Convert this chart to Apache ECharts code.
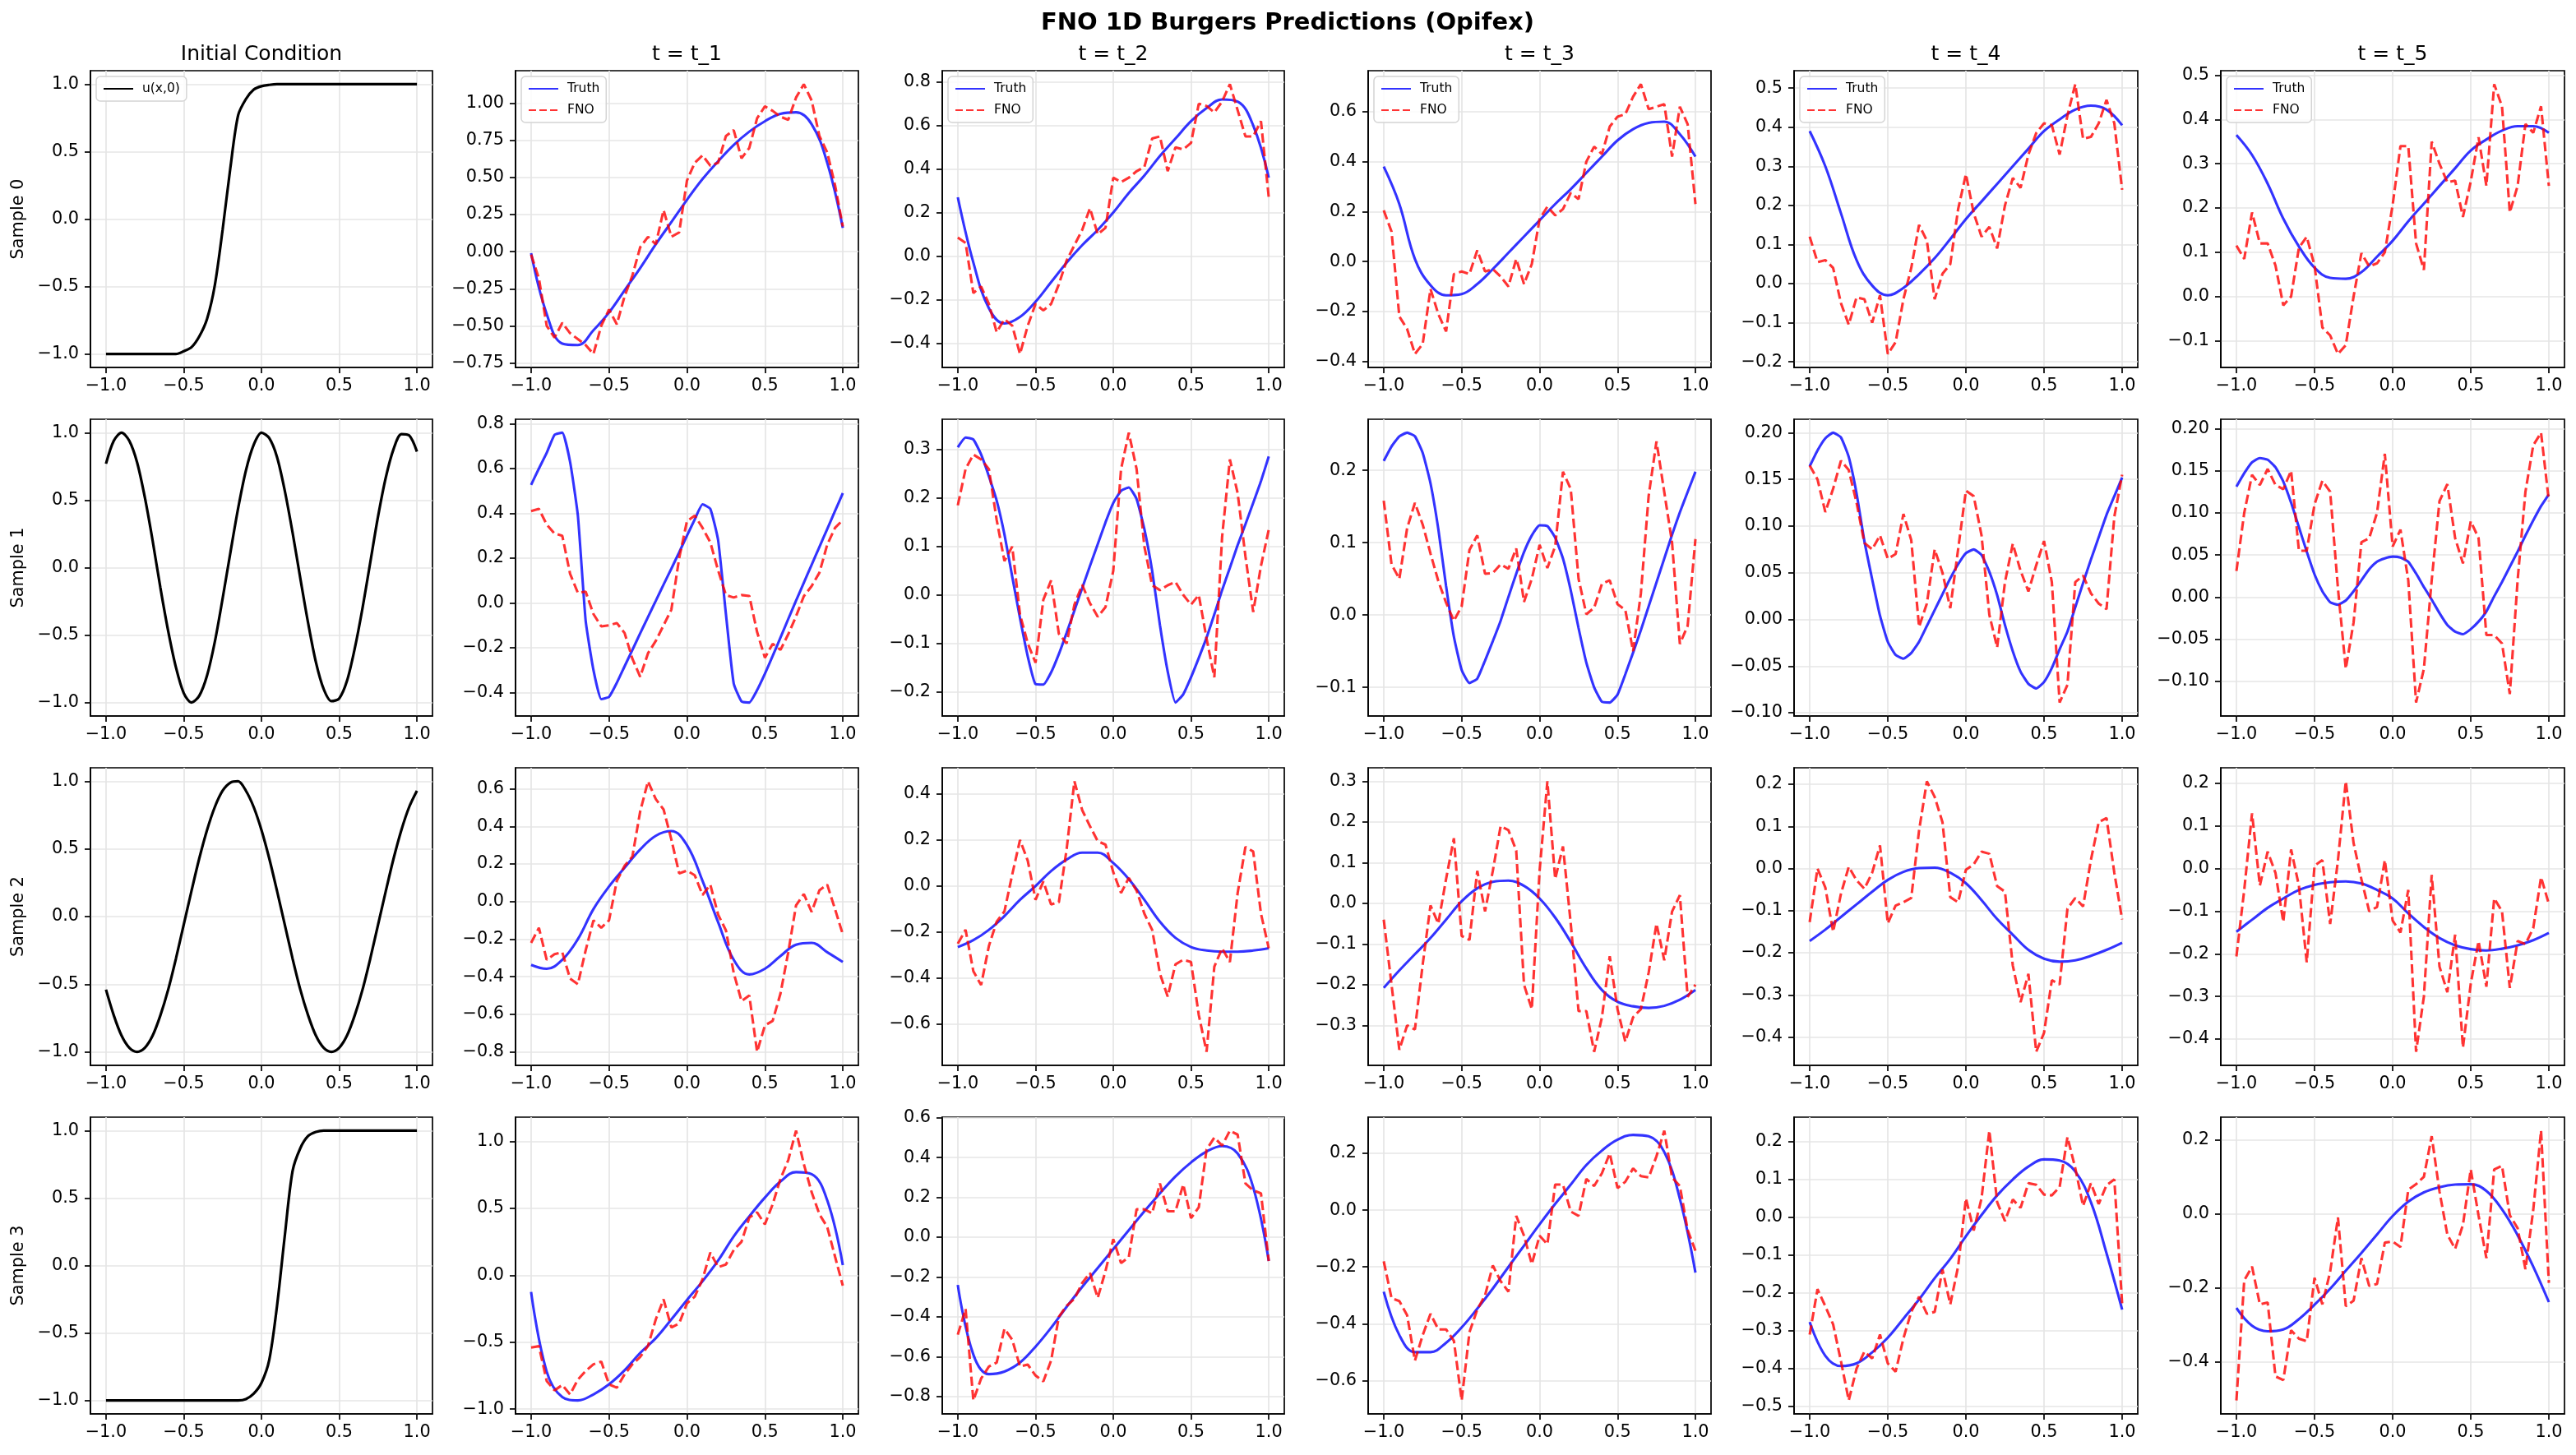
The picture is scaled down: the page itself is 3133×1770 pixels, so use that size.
<!DOCTYPE html>
<html><head><meta charset="utf-8">
<script src="https://cdn.jsdelivr.net/npm/echarts@6/dist/echarts.min.js"></script>
<style>html,body{margin:0;padding:0;background:#fff}#c{width:3133px;height:1770px}</style>
</head><body><div id="c"></div>
<script>
// ---------------- DATA ----------------
const X41 = [-1,-0.95,-0.9,-0.85,-0.8,-0.75,-0.7,-0.65,-0.6,-0.55,-0.5,-0.45,-0.4,-0.35,-0.3,-0.25,-0.2,-0.15,-0.1,-0.05,0,0.05,0.1,0.15,0.2,0.25,0.3,0.35,0.4,0.45,0.5,0.55,0.6,0.65,0.7,0.75,0.8,0.85,0.9,0.95,1];
const X21 = [-1,-0.9,-0.8,-0.7,-0.6,-0.5,-0.4,-0.3,-0.2,-0.1,0,0.1,0.2,0.3,0.4,0.5,0.6,0.7,0.8,0.9,1];

const colTitles = ['Initial Condition','t = t_1','t = t_2','t = t_3','t = t_4','t = t_5'];
const rowLabels = ['Sample 0','Sample 1','Sample 2','Sample 3'];
const suptitle = 'FNO 1D Burgers Predictions (Opifex)';
const xTicks = [-1,-0.5,0,0.5,1];

// initial conditions u(x,0)
const ic0 = [-1,-1,-1,-1,-1,-1,-1,-1,-1,-1,-0.98,-0.95,-0.87,-0.74,-0.49,-0.08,0.38,0.77,0.89,0.96,0.985,0.995,1,1,1,1,1,1,1,1,1,1,1,1,1,1,1,1,1,1,1];
const ic1 = [0.77,0.94,1.0,0.94,0.78,0.52,0.2,-0.15,-0.47,-0.74,-0.93,-1.0,-0.95,-0.8,-0.55,-0.23,0.11,0.44,0.72,0.91,1.0,0.96,0.82,0.57,0.26,-0.08,-0.41,-0.7,-0.9,-0.99,-0.97,-0.84,-0.6,-0.3,0.04,0.38,0.67,0.88,0.99,0.98,0.86];
const ic2 = [-0.54,-0.73,-0.88,-0.97,-1.0,-0.97,-0.88,-0.73,-0.54,-0.31,-0.06,0.19,0.43,0.64,0.81,0.93,0.99,1.0,0.93,0.81,0.64,0.43,0.19,-0.06,-0.31,-0.54,-0.73,-0.88,-0.97,-1.0,-0.97,-0.88,-0.73,-0.54,-0.31,-0.06,0.19,0.43,0.64,0.81,0.93];
const ic3 = [-1,-1,-1,-1,-1,-1,-1,-1,-1,-1,-1,-1,-1,-1,-1,-1,-1,-1,-0.99,-0.95,-0.87,-0.70,-0.30,0.22,0.70,0.87,0.96,0.99,1,1,1,1,1,1,1,1,1,1,1,1,1];

// Sample 0
const truthS0T1 = [-0.01,-0.42,-0.62,-0.63,-0.53,-0.41,-0.26,-0.11,0.05,0.20,0.35,0.49,0.61,0.72,0.81,0.88,0.93,0.94,0.86,0.60,0.16];
const fnoS0T1 = [-0.02,-0.18,-0.50,-0.58,-0.48,-0.55,-0.59,-0.63,-0.69,-0.50,-0.39,-0.49,-0.30,-0.16,0.03,0.10,0.05,0.28,0.10,0.13,0.48,0.60,0.65,0.58,0.60,0.78,0.82,0.63,0.70,0.90,0.98,0.95,0.91,0.89,1.04,1.13,1.02,0.78,0.67,0.45,0.17];
const truthS0T2 = [0.27,-0.03,-0.24,-0.31,-0.28,-0.21,-0.12,-0.03,0.05,0.12,0.20,0.29,0.37,0.46,0.54,0.62,0.68,0.72,0.71,0.60,0.36];
const fnoS0T2 = [0.085,0.06,-0.17,-0.14,-0.22,-0.35,-0.29,-0.32,-0.45,-0.32,-0.22,-0.25,-0.22,-0.13,-0.02,0.05,0.12,0.22,0.10,0.13,0.36,0.34,0.36,0.39,0.41,0.54,0.55,0.39,0.50,0.49,0.52,0.70,0.69,0.66,0.71,0.79,0.67,0.55,0.55,0.62,0.27];
const truthS0T3 = [0.38,0.23,0.01,-0.095,-0.135,-0.13,-0.09,-0.03,0.035,0.10,0.165,0.23,0.29,0.355,0.42,0.485,0.53,0.555,0.56,0.51,0.42];
const fnoS0T3 = [0.205,0.12,-0.22,-0.27,-0.37,-0.33,-0.11,-0.21,-0.28,-0.05,-0.04,-0.05,0.045,-0.04,-0.03,-0.06,-0.10,0.01,-0.09,-0.01,0.17,0.22,0.185,0.21,0.275,0.25,0.40,0.46,0.43,0.54,0.58,0.59,0.66,0.71,0.61,0.62,0.63,0.42,0.62,0.55,0.23];
const truthS0T4 = [0.39,0.30,0.18,0.06,-0.005,-0.03,-0.011,0.024,0.065,0.114,0.165,0.21,0.255,0.30,0.345,0.39,0.42,0.445,0.455,0.445,0.405];
const fnoS0T4 = [0.12,0.055,0.06,0.04,-0.05,-0.105,-0.035,-0.04,-0.10,-0.03,-0.18,-0.15,-0.04,0.04,0.15,0.11,-0.04,0.025,0.05,0.19,0.28,0.18,0.12,0.145,0.09,0.20,0.27,0.245,0.33,0.385,0.41,0.405,0.33,0.43,0.51,0.37,0.375,0.41,0.47,0.41,0.24];
const truthS0T5 = [0.365,0.32,0.255,0.176,0.113,0.065,0.042,0.04,0.055,0.09,0.126,0.17,0.21,0.25,0.29,0.33,0.355,0.375,0.385,0.385,0.37];
const fnoS0T5 = [0.115,0.085,0.19,0.12,0.12,0.07,-0.02,0.0,0.11,0.135,0.07,-0.07,-0.088,-0.13,-0.11,0.0,0.098,0.068,0.075,0.10,0.207,0.34,0.34,0.12,0.06,0.35,0.30,0.258,0.262,0.18,0.26,0.36,0.25,0.48,0.43,0.19,0.25,0.39,0.37,0.43,0.25];

// Sample 1
const truthS1T1 = [0.527,0.60,0.67,0.75,0.76,0.63,0.39,-0.08,-0.30,-0.43,-0.42,-0.357,-0.283,-0.21,-0.136,-0.063,0.009,0.082,0.153,0.226,0.30,0.373,0.44,0.42,0.28,-0.05,-0.36,-0.44,-0.445,-0.39,-0.317,-0.237,-0.155,-0.072,0.01,0.09,0.17,0.25,0.33,0.41,0.49];
const fnoS1T1 = [0.41,0.42,0.35,0.31,0.30,0.13,0.045,0.05,-0.05,-0.105,-0.10,-0.09,-0.135,-0.25,-0.33,-0.225,-0.17,-0.10,-0.03,0.20,0.365,0.39,0.335,0.27,0.145,0.035,0.024,0.035,0.031,-0.13,-0.245,-0.183,-0.21,-0.14,-0.06,0.03,0.075,0.135,0.26,0.335,0.37];
const truthS1T2 = [0.305,0.325,0.321,0.29,0.245,0.195,0.125,0.038,-0.048,-0.127,-0.184,-0.185,-0.16,-0.122,-0.078,-0.032,0.014,0.06,0.105,0.15,0.19,0.215,0.222,0.198,0.136,0.05,-0.062,-0.158,-0.222,-0.205,-0.17,-0.13,-0.088,-0.04,0.01,0.056,0.103,0.146,0.19,0.235,0.286];
const fnoS1T2 = [0.185,0.26,0.29,0.28,0.26,0.155,0.07,0.10,-0.04,-0.10,-0.14,-0.01,0.03,-0.08,-0.10,-0.02,0.021,-0.017,-0.045,-0.025,0.05,0.26,0.335,0.26,0.10,0.02,0.01,0.02,0.027,0.0,-0.02,0.0,-0.09,-0.17,0.12,0.28,0.21,0.08,-0.035,0.06,0.135];
const truthS1T3 = [0.213,0.233,0.247,0.252,0.247,0.224,0.182,0.119,0.04,-0.03,-0.076,-0.094,-0.088,-0.063,-0.036,-0.008,0.025,0.057,0.087,0.11,0.124,0.123,0.107,0.078,0.034,-0.018,-0.066,-0.10,-0.12,-0.121,-0.11,-0.082,-0.052,-0.021,0.012,0.045,0.078,0.111,0.142,0.17,0.198];
const fnoS1T3 = [0.158,0.07,0.05,0.12,0.155,0.125,0.085,0.047,0.017,-0.008,0.012,0.09,0.11,0.057,0.058,0.07,0.064,0.092,0.018,0.05,0.097,0.065,0.095,0.198,0.174,0.05,0.001,0.01,0.043,0.048,0.015,0.007,-0.05,0.03,0.165,0.24,0.17,0.10,-0.04,-0.015,0.105];
const truthS1T4 = [0.164,0.181,0.194,0.20,0.195,0.174,0.135,0.084,0.043,0.004,-0.024,-0.038,-0.042,-0.036,-0.024,-0.007,0.01,0.027,0.044,0.059,0.071,0.075,0.069,0.051,0.026,-0.006,-0.034,-0.056,-0.069,-0.074,-0.067,-0.052,-0.032,-0.013,0.013,0.039,0.064,0.088,0.112,0.132,0.152];
const fnoS1T4 = [0.165,0.15,0.115,0.14,0.17,0.16,0.125,0.082,0.075,0.09,0.065,0.07,0.113,0.085,-0.008,0.017,0.075,0.05,0.012,0.075,0.138,0.132,0.09,0.005,-0.03,0.04,0.081,0.052,0.03,0.058,0.084,0.04,-0.089,-0.07,0.04,0.047,0.028,0.017,0.011,0.11,0.155];
const truthS1T5 = [0.131,0.147,0.16,0.165,0.163,0.154,0.137,0.112,0.083,0.054,0.027,0.007,-0.006,-0.009,-0.004,0.007,0.02,0.033,0.042,0.046,0.048,0.047,0.042,0.028,0.012,-0.003,-0.019,-0.033,-0.041,-0.044,-0.038,-0.029,-0.017,0.001,0.018,0.036,0.054,0.073,0.091,0.108,0.122];
const fnoS1T5 = [0.031,0.10,0.145,0.133,0.152,0.133,0.128,0.15,0.055,0.055,0.11,0.138,0.125,0.01,-0.085,-0.03,0.065,0.07,0.10,0.17,0.06,0.08,0.02,-0.125,-0.085,0.02,0.114,0.134,0.07,0.04,0.09,0.07,-0.045,-0.045,-0.055,-0.115,0.02,0.125,0.18,0.195,0.114];

// Sample 2
const truthS2T1 = [-0.337,-0.358,-0.31,-0.20,-0.04,0.08,0.18,0.277,0.35,0.375,0.30,0.11,-0.11,-0.31,-0.388,-0.358,-0.29,-0.23,-0.22,-0.27,-0.322];
const fnoS2T1 = [-0.22,-0.14,-0.31,-0.28,-0.27,-0.41,-0.44,-0.26,-0.10,-0.14,-0.10,0.11,0.19,0.24,0.48,0.64,0.545,0.49,0.33,0.15,0.165,0.14,0.035,0.09,-0.07,-0.153,-0.38,-0.53,-0.50,-0.80,-0.66,-0.635,-0.49,-0.27,-0.02,0.04,-0.055,0.06,0.09,-0.04,-0.175];
const truthS2T2 = [-0.265,-0.235,-0.19,-0.13,-0.06,0.0,0.065,0.115,0.145,0.145,0.10,0.03,-0.06,-0.155,-0.225,-0.265,-0.28,-0.285,-0.285,-0.28,-0.27];
const fnoS2T2 = [-0.25,-0.19,-0.37,-0.43,-0.26,-0.155,-0.11,0.05,0.20,0.11,-0.06,0.02,-0.08,-0.07,0.16,0.455,0.33,0.26,0.195,0.18,0.06,-0.03,0.035,-0.02,-0.12,-0.19,-0.38,-0.48,-0.34,-0.32,-0.33,-0.56,-0.72,-0.35,-0.27,-0.33,-0.03,0.17,0.15,-0.12,-0.27];
const truthS2T3 = [-0.208,-0.165,-0.125,-0.085,-0.04,0.005,0.037,0.053,0.056,0.043,0.012,-0.035,-0.095,-0.16,-0.213,-0.242,-0.253,-0.257,-0.252,-0.237,-0.213];
const fnoS2T3 = [-0.04,-0.20,-0.36,-0.30,-0.31,-0.15,-0.005,-0.05,0.06,0.16,-0.08,-0.09,0.08,-0.02,0.08,0.19,0.18,0.13,-0.20,-0.26,0.08,0.30,0.06,0.14,-0.05,-0.265,-0.265,-0.365,-0.28,-0.13,-0.26,-0.34,-0.28,-0.26,-0.17,-0.05,-0.14,-0.02,0.02,-0.23,-0.20];
const truthS2T4 = [-0.172,-0.145,-0.115,-0.085,-0.055,-0.027,-0.008,0.001,0.002,-0.01,-0.035,-0.075,-0.12,-0.157,-0.193,-0.214,-0.221,-0.218,-0.207,-0.193,-0.176];
const fnoS2T4 = [-0.127,0.0,-0.045,-0.15,-0.06,0.004,-0.028,-0.048,-0.01,0.055,-0.13,-0.088,-0.08,-0.07,0.09,0.207,0.17,0.11,-0.068,-0.08,-0.003,0.01,0.04,0.035,-0.042,-0.055,-0.23,-0.317,-0.25,-0.435,-0.39,-0.265,-0.275,-0.095,-0.07,-0.09,0.02,0.11,0.12,-0.01,-0.121];
const truthS2T5 = [-0.148,-0.12,-0.092,-0.07,-0.05,-0.038,-0.032,-0.03,-0.035,-0.05,-0.07,-0.105,-0.137,-0.163,-0.18,-0.189,-0.192,-0.188,-0.18,-0.168,-0.151];
const fnoS2T5 = [-0.206,-0.05,0.13,-0.04,0.04,-0.01,-0.125,0.045,-0.04,-0.22,0.007,0.02,-0.13,0.02,0.205,0.06,-0.025,-0.10,-0.09,0.02,-0.122,-0.15,-0.05,-0.43,-0.30,-0.015,-0.23,-0.29,-0.155,-0.42,-0.27,-0.17,-0.277,-0.07,-0.10,-0.28,-0.17,-0.177,-0.14,-0.02,-0.083];

// Sample 3
const truthS3T1 = [-0.125,-0.72,-0.91,-0.935,-0.89,-0.815,-0.71,-0.58,-0.47,-0.33,-0.185,-0.045,0.11,0.29,0.44,0.58,0.70,0.77,0.755,0.56,0.076];
const fnoS3T1 = [-0.54,-0.53,-0.79,-0.86,-0.82,-0.89,-0.78,-0.715,-0.665,-0.645,-0.815,-0.84,-0.74,-0.665,-0.61,-0.528,-0.33,-0.18,-0.39,-0.36,-0.21,-0.16,-0.03,0.17,0.06,0.08,0.188,0.25,0.43,0.47,0.38,0.53,0.72,0.86,1.08,0.83,0.62,0.455,0.36,0.14,-0.078];
const truthS3T2 = [-0.24,-0.59,-0.688,-0.675,-0.63,-0.55,-0.455,-0.35,-0.25,-0.155,-0.06,0.035,0.13,0.22,0.305,0.375,0.43,0.457,0.42,0.25,-0.12];
const fnoS3T2 = [-0.49,-0.36,-0.82,-0.71,-0.65,-0.63,-0.46,-0.515,-0.65,-0.64,-0.695,-0.725,-0.62,-0.40,-0.345,-0.31,-0.23,-0.18,-0.305,-0.17,-0.01,-0.13,-0.10,0.14,0.14,0.12,0.27,0.13,0.13,0.265,0.095,0.15,0.44,0.50,0.46,0.535,0.515,0.27,0.235,0.22,-0.12];
const truthS3T3 = [-0.287,-0.44,-0.50,-0.50,-0.467,-0.413,-0.347,-0.276,-0.20,-0.125,-0.05,0.022,0.09,0.159,0.21,0.248,0.265,0.26,0.205,0.04,-0.22];
const fnoS3T3 = [-0.18,-0.31,-0.32,-0.37,-0.53,-0.44,-0.365,-0.42,-0.42,-0.46,-0.67,-0.43,-0.35,-0.30,-0.195,-0.25,-0.287,-0.02,-0.09,-0.19,-0.09,-0.12,0.09,0.09,-0.005,-0.02,0.11,0.085,0.13,0.20,0.078,0.10,0.147,0.12,0.115,0.19,0.28,0.115,0.085,-0.07,-0.143];
const truthS3T4 = [-0.277,-0.366,-0.393,-0.386,-0.357,-0.318,-0.268,-0.217,-0.161,-0.11,-0.05,0.006,0.058,0.10,0.134,0.153,0.15,0.121,0.04,-0.095,-0.244];
const fnoS3T4 = [-0.31,-0.19,-0.235,-0.283,-0.38,-0.484,-0.40,-0.355,-0.373,-0.31,-0.386,-0.408,-0.32,-0.25,-0.21,-0.255,-0.25,-0.138,-0.23,-0.13,0.05,-0.035,0.05,0.229,0.04,-0.01,0.047,0.025,0.09,0.086,0.06,0.058,0.08,0.212,0.13,0.03,0.09,0.035,0.085,0.10,-0.229];
const truthS3T5 = [-0.255,-0.303,-0.318,-0.313,-0.285,-0.246,-0.203,-0.154,-0.106,-0.056,-0.006,0.033,0.058,0.072,0.079,0.08,0.062,0.012,-0.058,-0.143,-0.239];
const fnoS3T5 = [-0.505,-0.18,-0.143,-0.245,-0.24,-0.44,-0.45,-0.315,-0.338,-0.345,-0.173,-0.245,-0.157,-0.01,-0.25,-0.235,-0.12,-0.195,-0.19,-0.078,-0.075,-0.09,0.065,0.08,0.10,0.21,0.06,-0.056,-0.095,-0.03,0.12,-0.005,-0.12,0.12,0.13,-0.004,-0.039,-0.15,0.01,0.225,-0.187];

// y tick values per row (one list per column) and decimals
const yTicksRow0 = [[-1,-0.5,0,0.5,1],[-0.75,-0.5,-0.25,0,0.25,0.5,0.75,1],[-0.4,-0.2,0,0.2,0.4,0.6,0.8],[-0.4,-0.2,0,0.2,0.4,0.6],[-0.2,-0.1,0,0.1,0.2,0.3,0.4,0.5],[-0.1,0,0.1,0.2,0.3,0.4,0.5]];
const yTicksRow1 = [[-1,-0.5,0,0.5,1],[-0.4,-0.2,0,0.2,0.4,0.6,0.8],[-0.2,-0.1,0,0.1,0.2,0.3],[-0.1,0,0.1,0.2],[-0.1,-0.05,0,0.05,0.1,0.15,0.2],[-0.1,-0.05,0,0.05,0.1,0.15,0.2]];
const yTicksRow2 = [[-1,-0.5,0,0.5,1],[-0.8,-0.6,-0.4,-0.2,0,0.2,0.4,0.6],[-0.6,-0.4,-0.2,0,0.2,0.4],[-0.4,-0.3,-0.2,-0.1,0,0.1,0.2,0.3],[-0.4,-0.3,-0.2,-0.1,0,0.1,0.2],[-0.4,-0.3,-0.2,-0.1,0,0.1,0.2]];
const yTicksRow3 = [[-1,-0.5,0,0.5,1],[-1,-0.5,0,0.5,1],[-0.8,-0.6,-0.4,-0.2,0,0.2,0.4,0.6],[-0.6,-0.4,-0.2,0,0.2],[-0.5,-0.4,-0.3,-0.2,-0.1,0,0.1,0.2],[-0.4,-0.2,0,0.2]];
const yDecRow0 = [1,2,1,1,1,1];
const yDecRow1 = [1,1,1,1,2,2];
const yDecRow2 = [1,1,1,1,1,1];
const yDecRow3 = [1,1,1,1,1,1];

// ---------------- LAYOUT / STYLE ----------------
const colLeft = [110,627,1146,1664,2182,2701];
const colWidth = [416,417,416,417,418,418];
const rowTop = [86,510,934,1359];
const rowHeight = [361,361,362,361];
const FONT = '"DejaVu Sans", "Liberation Sans", sans-serif';
const BLUE = 'rgba(0,0,255,0.8)';
const RED = 'rgba(255,0,0,0.8)';
const GRIDC = '#e6e6e6';

const icRows = [ic0, ic1, ic2, ic3];
const truthRows = [
  [truthS0T1,truthS0T2,truthS0T3,truthS0T4,truthS0T5],
  [truthS1T1,truthS1T2,truthS1T3,truthS1T4,truthS1T5],
  [truthS2T1,truthS2T2,truthS2T3,truthS2T4,truthS2T5],
  [truthS3T1,truthS3T2,truthS3T3,truthS3T4,truthS3T5]];
const fnoRows = [
  [fnoS0T1,fnoS0T2,fnoS0T3,fnoS0T4,fnoS0T5],
  [fnoS1T1,fnoS1T2,fnoS1T3,fnoS1T4,fnoS1T5],
  [fnoS2T1,fnoS2T2,fnoS2T3,fnoS2T4,fnoS2T5],
  [fnoS3T1,fnoS3T2,fnoS3T3,fnoS3T4,fnoS3T5]];
const yTicksRows = [yTicksRow0,yTicksRow1,yTicksRow2,yTicksRow3];
const yDecRows = [yDecRow0,yDecRow1,yDecRow2,yDecRow3];

function fmt(v, d) {
  const s = Math.abs(v).toFixed(d);
  return (v < -1e-9 ? '\u2212' : '') + s;
}
function zip(xs, ys) { return ys.map((y, k) => [xs[k], y]); }
function xsFor(arr) { return arr.length === 41 ? X41 : X21; }

const grids = [], xAxes = [], yAxes = [], series = [], legends = [], graphics = [];

for (let r = 0; r < 4; r++) {
  for (let c = 0; c < 6; c++) {
    const i = r * 6 + c;
    grids.push({ left: colLeft[c], top: rowTop[r], width: colWidth[c], height: rowHeight[r],
      show: true, borderColor: '#000', borderWidth: 1.7, backgroundColor: 'transparent' });
    let arrays;
    if (c === 0) arrays = [icRows[r]]; else arrays = [truthRows[r][c-1], fnoRows[r][c-1]];
    let lo = Infinity, hi = -Infinity;
    arrays.forEach(a => a.forEach(v => { if (v < lo) lo = v; if (v > hi) hi = v; }));
    const pad = (hi - lo) * 0.05;
    const dec = yDecRows[r][c];
    const yt = yTicksRows[r][c];
    xAxes.push({ type: 'value', gridIndex: i, min: -1.1, max: 1.1,
      axisLine: { show: true, onZero: false, lineStyle: { color: '#000', width: 1.7 } },
      axisTick: { show: true, length: 7, customValues: xTicks, lineStyle: { color: '#000', width: 1.7 } },
      axisLabel: { show: true, customValues: xTicks, margin: 12, fontSize: 20.8, fontFamily: FONT, color: '#000',
        formatter: v => fmt(v, 1) },
      splitLine: { show: true, lineStyle: { color: GRIDC, width: 1.7 } } });
    yAxes.push({ type: 'value', gridIndex: i, min: lo - pad, max: hi + pad,
      axisLine: { show: true, onZero: false, lineStyle: { color: '#000', width: 1.7 } },
      axisTick: { show: true, length: 7, customValues: yt, lineStyle: { color: '#000', width: 1.7 } },
      axisLabel: { show: true, customValues: yt, margin: 14, fontSize: 20.8, fontFamily: FONT, color: '#000',
        formatter: v => fmt(v, dec) },
      splitLine: { show: true, lineStyle: { color: GRIDC, width: 1.7 } } });
    if (c === 0) {
      series.push({ type: 'line', name: 'u(x,0)', xAxisIndex: i, yAxisIndex: i, data: zip(X41, icRows[r]),
        symbol: 'none', smooth: 0.3, lineStyle: { color: '#000', width: 3.2 }, itemStyle: { color: '#000' } });
    } else {
      const tr = truthRows[r][c-1], fn = fnoRows[r][c-1];
      series.push({ type: 'line', name: 'Truth', xAxisIndex: i, yAxisIndex: i, data: zip(xsFor(tr), tr),
        symbol: 'none', smooth: tr.length === 41 ? 0.15 : 0.4, lineStyle: { color: BLUE, width: 3.1 }, itemStyle: { color: BLUE } });
      series.push({ type: 'line', name: 'FNO', xAxisIndex: i, yAxisIndex: i, data: zip(xsFor(fn), fn),
        symbol: 'none', lineStyle: { color: RED, width: 3.1, type: [11.5, 5] }, itemStyle: { color: RED } });
    }
    if (r === 0) {
      legends.push({ left: colLeft[c] + 7, top: rowTop[r] + 7, orient: 'vertical',
        data: c === 0 ? [{ name: 'u(x,0)' }] : [{ name: 'Truth' }, { name: 'FNO', lineStyle: { type: [9, 4] } }],
        itemWidth: 36, itemHeight: 12, itemGap: 10, padding: [7, 8, 7, 8], selectedMode: false,
        itemStyle: { opacity: 0, borderWidth: 0 },
        backgroundColor: 'rgba(255,255,255,0.85)', borderColor: '#d4d4d4', borderWidth: 1.5, borderRadius: 5,
        textStyle: { fontFamily: FONT, fontSize: 15.5, color: '#000', padding: [0, 0, 0, 6] } });
      graphics.push({ type: 'text', x: colLeft[c] + colWidth[c] / 2, y: 66,
        style: { text: colTitles[c], font: '25px ' + FONT, fill: '#000', align: 'center', verticalAlign: 'middle' } });
    }
    if (c === 0) {
      graphics.push({ type: 'text', x: 23, y: rowTop[r] + rowHeight[r] / 2, rotation: Math.PI / 2,
        style: { text: rowLabels[r], font: '20.8px ' + FONT, fill: '#000', align: 'center', verticalAlign: 'middle' } });
    }
  }
}
graphics.push({ type: 'text', x: 1566, y: 28,
  style: { text: suptitle, font: 'bold 29px ' + FONT, fill: '#000', align: 'center', verticalAlign: 'middle' } });

const chart = echarts.init(document.getElementById('c'), null, { renderer: 'canvas', width: 3133, height: 1770 });
chart.setOption({
  backgroundColor: '#fff',
  animation: false,
  grid: grids, xAxis: xAxes, yAxis: yAxes, series: series, legend: legends,
  graphic: { elements: graphics }
});
</script></body></html>
